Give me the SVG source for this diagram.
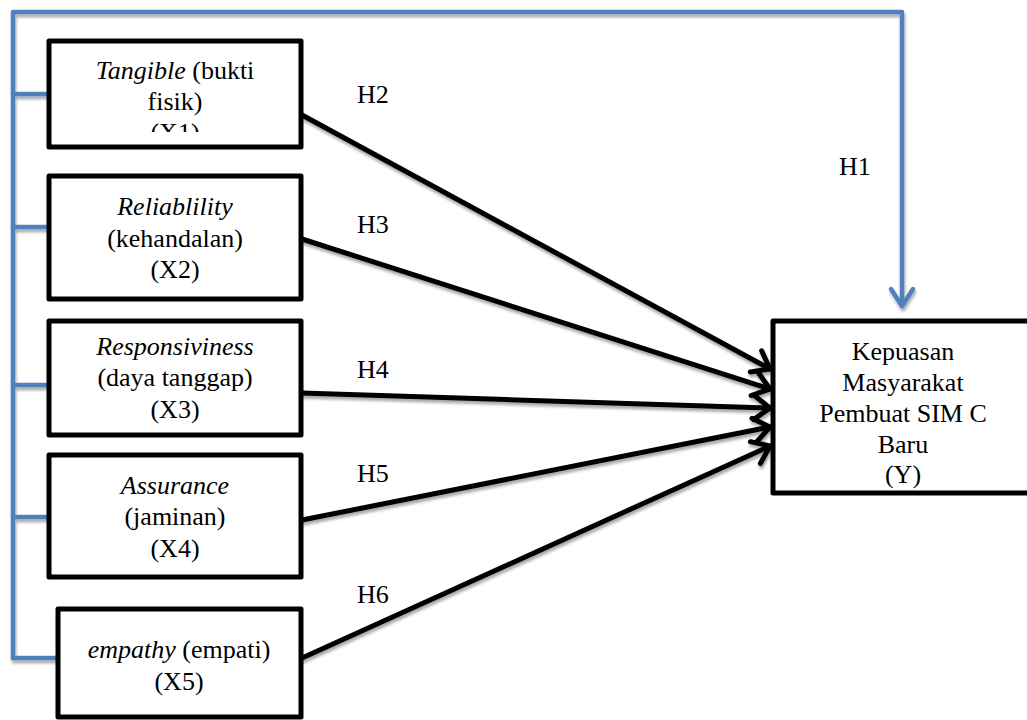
<svg xmlns="http://www.w3.org/2000/svg" width="1027" height="720" viewBox="0 0 1027 720">
<style>
.box{fill:#fff;stroke:#000;stroke-width:5;stroke-linejoin:round}
.t{font-family:"Liberation Serif","Times New Roman",serif;font-size:26px;fill:#000;text-anchor:middle}
.i{font-style:italic}
.h{font-family:"Liberation Serif","Times New Roman",serif;font-size:26px;fill:#000}
.blue{fill:none;stroke:#4F81BD;stroke-width:4.5;stroke-linejoin:round;stroke-linecap:round}
.arr{fill:none;stroke:#000;stroke-width:5;stroke-linecap:round}
</style>
<defs>
<filter id="sh" x="-5%" y="-5%" width="110%" height="110%">
<feGaussianBlur in="SourceAlpha" stdDeviation="1.5"/>
<feOffset dx="1" dy="3" result="b"/>
<feComponentTransfer><feFuncA type="linear" slope="0.35"/></feComponentTransfer>
<feMerge><feMergeNode/><feMergeNode in="SourceGraphic"/></feMerge>
</filter>
<marker id="ah" markerUnits="userSpaceOnUse" markerWidth="40" markerHeight="40" refX="26" refY="20" orient="auto" viewBox="0 0 40 40">
<path d="M10,8 L26,20 L10,32" fill="none" stroke="#000" stroke-width="5" stroke-linecap="round" stroke-linejoin="miter"/>
</marker>
<clipPath id="c1"><rect x="51" y="43" width="247" height="89"/></clipPath>
</defs>
<g id="connectors">
<g filter="url(#sh)">
<path class="blue" d="M13,658 L13,12 L902,12 L902,306"/>
<path class="blue" d="M891,289 L902,306 L913,289"/>
<path class="blue" d="M13,94 L49,94 M13,227 L49,227 M13,385 L49,385 M13,517 L49,517 M13,658 L58,658"/>
<line class="arr" x1="302" y1="115" x2="770" y2="369" marker-end="url(#ah)"/>
<line class="arr" x1="302" y1="239" x2="770" y2="389" marker-end="url(#ah)"/>
<line class="arr" x1="302" y1="393" x2="770" y2="408" marker-end="url(#ah)"/>
<line class="arr" x1="302" y1="520" x2="770" y2="427" marker-end="url(#ah)"/>
<line class="arr" x1="302" y1="658" x2="770" y2="446" marker-end="url(#ah)"/>
</g>
<text class="h" x="839" y="175">H1</text>
<text class="h" x="357" y="103">H2</text>
<text class="h" x="357" y="233">H3</text>
<text class="h" x="357" y="378">H4</text>
<text class="h" x="357" y="482">H5</text>
<text class="h" x="357" y="603">H6</text>
</g>
<g id="x1">
<rect class="box" x="49" y="41" width="252" height="106"/>
<g clip-path="url(#c1)">
<text class="t" x="175" y="79"><tspan class="i">Tangible</tspan> (bukti</text>
<text class="t" x="175" y="110">fisik)</text>
<text class="t" x="175" y="141">(X1)</text>
</g>
</g>
<g id="x2">
<rect class="box" x="49" y="176" width="252" height="123"/>
<text class="t i" x="175" y="215">Reliablility</text>
<text class="t" x="175" y="247">(kehandalan)</text>
<text class="t" x="175" y="278">(X2)</text>
</g>
<g id="x3">
<rect class="box" x="49" y="321" width="252" height="114"/>
<text class="t i" x="175" y="355">Responsiviness</text>
<text class="t" x="175" y="386">(daya tanggap)</text>
<text class="t" x="175" y="418">(X3)</text>
</g>
<g id="x4">
<rect class="box" x="49" y="455" width="252" height="122"/>
<text class="t i" x="175" y="494">Assurance</text>
<text class="t" x="175" y="525">(jaminan)</text>
<text class="t" x="175" y="557">(X4)</text>
</g>
<g id="x5">
<rect class="box" x="58" y="609" width="243" height="108"/>
<text class="t" x="179" y="658"><tspan class="i">empathy</tspan> (empati)</text>
<text class="t" x="179" y="690">(X5)</text>
</g>
<g id="y">
<rect class="box" x="773" y="321" width="260" height="172"/>
<text class="t" x="903" y="360">Kepuasan</text>
<text class="t" x="903" y="391">Masyarakat</text>
<text class="t" x="903" y="422">Pembuat SIM C</text>
<text class="t" x="903" y="453">Baru</text>
<text class="t" x="903" y="483">(Y)</text>
</g>
</svg>
